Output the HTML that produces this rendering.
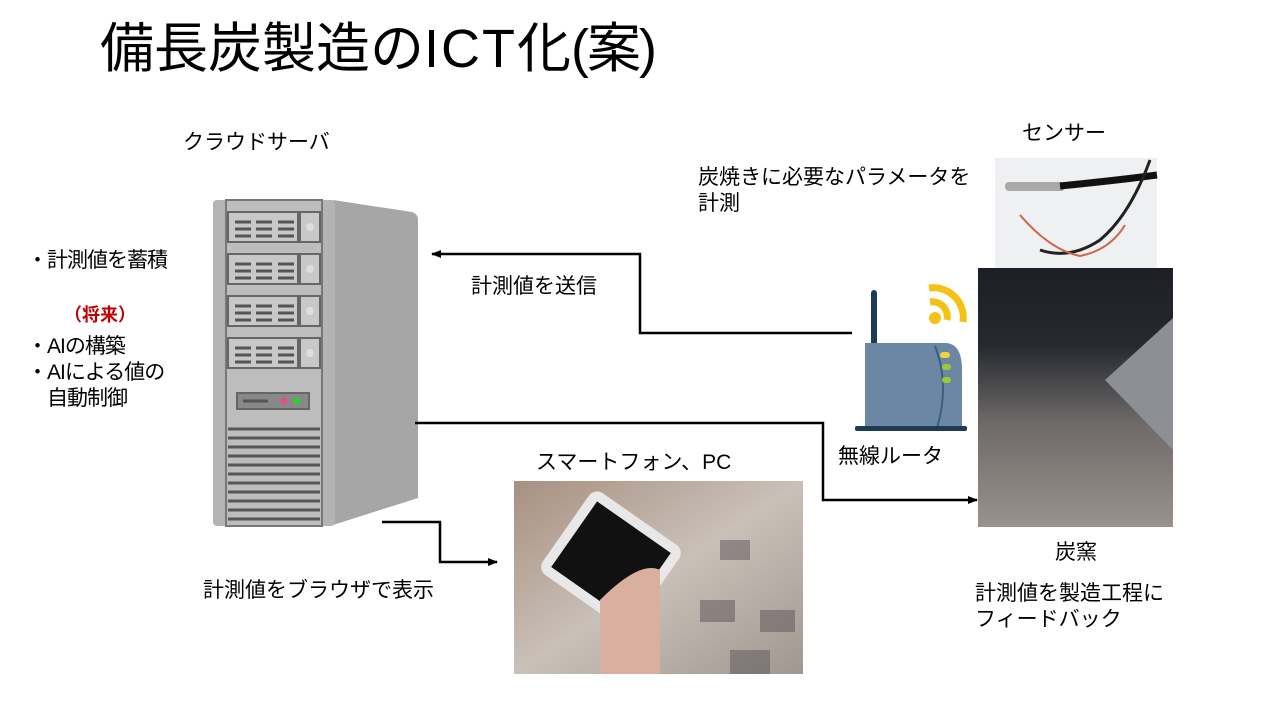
<!DOCTYPE html>
<html><head><meta charset="utf-8"><style>
body{margin:0;width:1280px;height:720px;background:#fff;position:relative;overflow:hidden;font-family:"Liberation Sans","Noto Sans CJK JP",sans-serif;color:#000}
.t{position:absolute;font-size:21px;line-height:26px;white-space:nowrap}
</style></head><body>
<div class="t" style="left:100px;top:14px;font-size:54px;line-height:70px">備長炭製造の<span style="font-weight:100;letter-spacing:2px">ICT</span>化<span style="letter-spacing:-2px">(案)</span></div>
<div class="t" style="left:183px;top:130px">クラウドサーバ</div>
<div class="t" style="left:1022px;top:121px">センサー</div>
<div class="t" style="left:698px;top:165px">炭焼きに必要なパラメータを<br>計測</div>
<div class="t" style="left:27px;top:248px;letter-spacing:-1px">・計測値を蓄積</div>
<div class="t" style="left:64px;top:302px;color:#c00000;font-weight:bold;font-size:18px">（将来）</div>
<div class="t" style="left:27px;top:334px;letter-spacing:-1px">・AIの構築<br>・AIによる値の<br>　自動制御</div>
<div class="t" style="left:471px;top:274px">計測値を送信</div>
<div class="t" style="left:838px;top:444px">無線ルータ</div>
<div class="t" style="left:536px;top:450px">スマートフォン、PC</div>
<div class="t" style="left:203px;top:578px">計測値をブラウザで表示</div>
<div class="t" style="left:1055px;top:540px">炭窯</div>
<div class="t" style="left:975px;top:581px">計測値を製造工程に<br>フィードバック</div>

<svg width="1280" height="720" style="position:absolute;left:0;top:0">
<defs><marker id="a" markerWidth="10" markerHeight="8" refX="9" refY="4" orient="auto" markerUnits="userSpaceOnUse"><path d="M0,0L10,4L0,8z" fill="#000"/></marker></defs>
<path d="M333,200 L412,212 Q418,214 418,220 L418,498 L333,525z" fill="#a6a6a6"/>
<rect x="213" y="200" width="122" height="326" rx="4" fill="#b4b4b4"/>
<rect x="226" y="200" width="96" height="326" fill="#bdbdbd" stroke="#777" stroke-width="2"/>
<g fill="#c8c8c8" stroke="#666" stroke-width="2">
<rect x="228" y="212" width="70" height="30"/><rect x="300" y="212" width="20" height="30"/>
<rect x="228" y="254" width="70" height="30"/><rect x="300" y="254" width="20" height="30"/>
<rect x="228" y="296" width="70" height="30"/><rect x="300" y="296" width="20" height="30"/>
<rect x="228" y="338" width="70" height="30"/><rect x="300" y="338" width="20" height="30"/>
<rect x="237" y="393" width="72" height="16" fill="#888"/>
</g>
<g stroke="#555" stroke-width="3">
<path d="M235,222h16M256,222h16M278,222h16M235,229h16M256,229h16M278,229h16M235,236h16M256,236h16M278,236h16"/>
<path d="M235,264h16M256,264h16M278,264h16M235,271h16M256,271h16M278,271h16M235,278h16M256,278h16M278,278h16"/>
<path d="M235,306h16M256,306h16M278,306h16M235,313h16M256,313h16M278,313h16M235,320h16M256,320h16M278,320h16"/>
<path d="M235,348h16M256,348h16M278,348h16M235,355h16M256,355h16M278,355h16M235,362h16M256,362h16M278,362h16"/>
<path d="M243,401h25"/>
<path d="M228,429h92M228,438h92M228,447h92M228,456h92M228,465h92M228,474h92M228,483h92M228,492h92M228,501h92M228,510h92M228,519h92"/>
</g>
<g fill="#ddd"><circle cx="310" cy="227" r="4"/><circle cx="310" cy="269" r="4"/><circle cx="310" cy="311" r="4"/><circle cx="310" cy="353" r="4"/></g>
<circle cx="284" cy="401" r="3.5" fill="#e05090"/><circle cx="297" cy="401" r="3.5" fill="#3c3"/>
<g fill="none" stroke="#000" stroke-width="2.5">
<path d="M852,333H640V254H432" marker-end="url(#a)"/>
<path d="M415,423H823V500H977" marker-end="url(#a)"/>
<path d="M382,522H440V562H497" marker-end="url(#a)"/>
</g>
<rect x="871" y="290" width="6" height="56" rx="3" fill="#1d3a57"/>
<path d="M865,343H945Q962,343 962,370V428H865z" fill="#6b87a3"/>
<path d="M935,346Q950,385 937,428" stroke="#3f5d7c" stroke-width="2" fill="none"/>
<rect x="855" y="426" width="112" height="5" rx="2" fill="#1d3a57"/>
<rect x="940" y="352" width="10" height="6" rx="3" fill="#f2d23a"/>
<rect x="942" y="364" width="9" height="6" rx="3" fill="#9c3"/><rect x="942" y="377" width="9" height="6" rx="3" fill="#9c3"/>
<circle cx="935" cy="318" r="6" fill="#f3c214"/>
<path d="M930,302A15,15 0 0 1 947,320" stroke="#f3c214" stroke-width="7" fill="none"/>
<path d="M929,288A30,30 0 0 1 963,322" stroke="#f3c214" stroke-width="7" fill="none"/>
<rect x="995" y="158" width="162" height="110" fill="#eef0f2"/>
<rect x="1005" y="182" width="60" height="9" rx="4" fill="#aaa"/>
<path d="M1060,186Q1120,180 1157,175" stroke="#111" stroke-width="7" fill="none"/>
<path d="M1150,160Q1130,215 1100,240Q1070,260 1040,250" stroke="#222" stroke-width="3" fill="none"/>
<path d="M1020,215Q1050,250 1080,256Q1110,250 1125,225" stroke="#c64" stroke-width="2" fill="none"/>
<defs><linearGradient id="k" x1="0" y1="0" x2="0" y2="1"><stop offset="0" stop-color="#1c2026"/><stop offset=".3" stop-color="#262a30"/><stop offset=".45" stop-color="#4a4a4c"/><stop offset=".6" stop-color="#6e6a68"/><stop offset="1" stop-color="#9a928e"/></linearGradient>
<linearGradient id="p" x1="0" y1="0" x2="1" y2="1"><stop offset="0" stop-color="#a89080"/><stop offset=".5" stop-color="#c9c0b8"/><stop offset="1" stop-color="#a09890"/></linearGradient></defs>
<rect x="978" y="268" width="195" height="259" fill="url(#k)"/>
<path d="M1105,380L1173,318V450z" fill="#8c9094"/>
<rect x="514" y="481" width="289" height="193" fill="url(#p)"/>
<g fill="#5a5258" opacity=".5"><rect x="720" y="540" width="30" height="20"/><rect x="700" y="600" width="35" height="22"/><rect x="760" y="610" width="35" height="22"/><rect x="730" y="650" width="40" height="24"/></g>
<rect x="556" y="510" width="110" height="100" rx="10" fill="#e8e8e8" transform="rotate(35 611 560)"/>
<rect x="566" y="520" width="90" height="80" fill="#111" transform="rotate(35 611 560)"/>
<path d="M600,600Q640,560 660,570L660,674H600z" fill="#d9b0a0"/>
</svg>
</body></html>
